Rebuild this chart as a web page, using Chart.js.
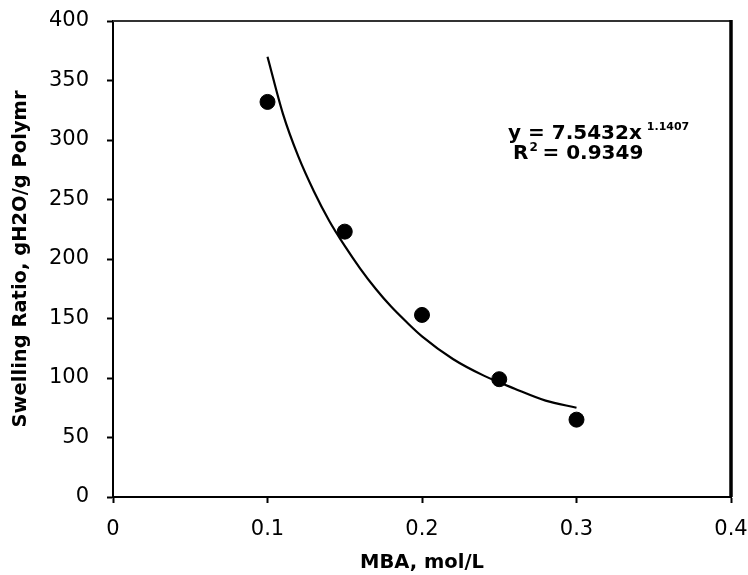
<!DOCTYPE html>
<html>
<head>
<meta charset="utf-8">
<script src="https://cdn.jsdelivr.net/npm/chart.js@4"></script>
<style>
  html, body { margin: 0; padding: 0; background: #fff; }
  #wrap { width: 748px; height: 575px; }
</style>
</head>
<body>
<div id="wrap"><canvas id="swellChart" width="748" height="575"></canvas></div>
<script>
// measured swelling ratio vs crosslinker (MBA) concentration
const mbaConc = [0.1, 0.15, 0.2, 0.25, 0.3];
const swellRatio = [332, 223, 153, 99, 65];

// power trendline, sampled along the fitted curve
const fitX = [0.1, 0.11, 0.12, 0.13, 0.14, 0.15, 0.16, 0.17, 0.18, 0.19, 0.2, 0.22, 0.24, 0.26, 0.28, 0.3];
const fitY = [370, 322, 286, 257, 232, 211, 192, 175, 160, 147, 135, 116, 102, 91, 81, 75];

const xTicks = [0, 0.1, 0.2, 0.3, 0.4];
const yTicks = [0, 50, 100, 150, 200, 250, 300, 350, 400];

const eqLine = 'y = 7.5432x';
const eqPower = '1.1407';
const r2Value = '0.9349';

const pts = mbaConc.map((x, i) => ({ x: x, y: swellRatio[i] }));
const fit = fitX.map((x, i) => ({ x: x, y: fitY[i] }));

const FONT = 'DejaVu Sans';

// top and right edges of the plot box
const frame = {
    id: 'frame',
    afterDraw(chart) {
        const { ctx, chartArea: a } = chart;
        ctx.save();
        ctx.strokeStyle = '#333';
        ctx.lineWidth = 2;
        ctx.beginPath();
        ctx.moveTo(a.left, a.top);
        ctx.lineTo(a.right, a.top);
        ctx.stroke();
        ctx.strokeStyle = '#000';
        ctx.lineWidth = 3.5;
        ctx.beginPath();
        ctx.moveTo(a.right, a.top - 1);
        ctx.lineTo(a.right, a.bottom);
        ctx.stroke();
        ctx.restore();
    }
};

// trendline equation and R squared
const equation = {
    id: 'equation',
    afterDraw(chart) {
        const { ctx, scales } = chart;
        const x0 = scales.x.getPixelForValue(0.2557);
        const y0 = scales.y.getPixelForValue(300.5);
        ctx.save();
        ctx.fillStyle = '#000';
        ctx.textBaseline = 'alphabetic';
        ctx.textAlign = 'left';

        ctx.font = 'bold 20px ' + FONT;
        ctx.fillText(eqLine, x0, y0);
        let w = ctx.measureText(eqLine + ' ').width;
        ctx.font = 'bold 11px ' + FONT;
        ctx.fillText(eqPower, x0 + w - 2, y0 - 9);

        const y1 = y0 + 20;
        const x1 = x0 + 5;
        ctx.font = 'bold 20px ' + FONT;
        ctx.fillText('R', x1, y1);
        w = ctx.measureText('R').width;
        ctx.font = 'bold 12px ' + FONT;
        ctx.fillText('2', x1 + w + 1, y1 - 8);
        ctx.font = 'bold 20px ' + FONT;
        ctx.fillText('= ' + r2Value, x1 + w + 14, y1);
        ctx.restore();
    }
};

new Chart(document.getElementById('swellChart'), {
    type: 'scatter',
    data: {
        datasets: [{
            label: 'Power fit',
            data: fit,
            showLine: true,
            borderColor: '#000',
            borderWidth: 2.2,
            pointRadius: 0,
            cubicInterpolationMode: 'monotone',
            fill: false
        }, {
            label: 'Swelling ratio',
            data: pts,
            backgroundColor: '#000',
            borderColor: '#000',
            pointRadius: 7.5,
            pointHoverRadius: 7.5
        }]
    },
    options: {
        responsive: false,
        animation: false,
        layout: { padding: { left: 0, right: 17, top: 21, bottom: 0 } },
        plugins: {
            legend: { display: false },
            tooltip: { enabled: false }
        },
        scales: {
            x: {
                type: 'linear',
                min: 0,
                max: 0.4,
                afterFit: (scale) => {
                    scale.height = 78;
                    scale.paddingLeft = 0;
                    scale.paddingRight = 0;
                },
                afterBuildTicks: (scale) => { scale.ticks = xTicks.map(v => ({ value: v })); },
                border: { display: true, color: '#000', width: 2 },
                grid: { drawOnChartArea: false, drawTicks: true, tickLength: 6, tickWidth: 2, tickColor: '#000' },
                ticks: {
                    color: '#000',
                    padding: 14,
                    maxRotation: 0,
                    font: { family: FONT, size: 21 },
                    callback: (v) => String(v)
                },
                title: {
                    display: true,
                    text: 'MBA, mol/L',
                    color: '#000',
                    padding: { top: 0, bottom: 0 },
                    font: { family: FONT, size: 19.5, weight: 'bold' }
                }
            },
            y: {
                type: 'linear',
                min: 0,
                max: 400,
                afterFit: (scale) => {
                    scale.width = 113;
                    scale.paddingTop = 0;
                    scale.paddingBottom = 0;
                },
                afterBuildTicks: (scale) => { scale.ticks = yTicks.map(v => ({ value: v })); },
                border: { display: true, color: '#000', width: 2 },
                grid: { drawOnChartArea: false, drawTicks: true, tickLength: 6, tickWidth: 2, tickColor: '#000' },
                ticks: {
                    color: '#000',
                    padding: 18,
                    font: { family: FONT, size: 21 },
                    callback: (v) => String(v)
                },
                title: {
                    display: true,
                    text: 'Swelling Ratio, gH2O/g Polymr',
                    color: '#000',
                    padding: { top: 9, bottom: 0 },
                    font: { family: FONT, size: 19.5, weight: 'bold' }
                }
            }
        }
    },
    plugins: [frame, equation]
});
</script>
</body>
</html>
